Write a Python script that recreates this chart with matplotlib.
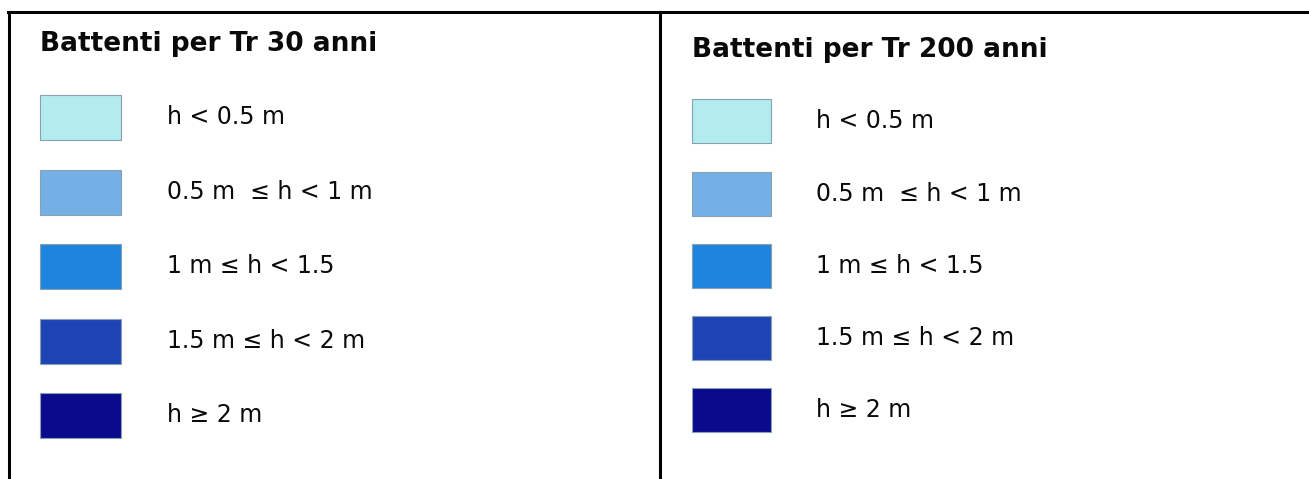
import matplotlib
matplotlib.use('Agg')
import matplotlib.pyplot as plt
from matplotlib.patches import Rectangle

# titoli dei due pannelli
titles = ['Battenti per Tr 30 anni', 'Battenti per Tr 200 anni']
# classi di battente
labels = ['h < 0.5 m', '0.5 m  \u2264 h < 1 m', '1 m \u2264 h < 1.5',
          '1.5 m \u2264 h < 2 m', 'h \u2265 2 m']
colors = ['#b3ecee', '#74b0e6', '#1e84de', '#1c44b4', '#0a0a8c']

W, H = 1309, 479
fig = plt.figure(figsize=(W / 100, H / 100), dpi=100)
ax = fig.add_axes([0, 0, 1, 1])
ax.set_xlim(0, W)
ax.set_ylim(H, 0)
ax.axis('off')

# bordi della tabella
ax.plot([8, W], [12, 12], color='black', lw=2.2)
ax.plot([9, 9], [12, H], color='black', lw=2.2)
ax.plot([660, 660], [12, H], color='black', lw=2.2)

# posizioni dei pannelli: x box, x testo, y titolo, y centri righe, altezza box
panels = [
    dict(xb=40, wb=81, xt=167, yt=44, rows=[117, 192, 266, 341, 415], hb=45),
    dict(xb=692, wb=79, xt=816, yt=50, rows=[121, 194, 266, 338, 410], hb=44),
]

for title, p in zip(titles, panels):
    ax.text(p['xb'], p['yt'], title, fontsize=19, fontweight='semibold',
            va='center', ha='left', color='#0a0a0a', family='DejaVu Sans')
    for lab, col, yc in zip(labels, colors, p['rows']):
        ax.add_patch(Rectangle((p['xb'], yc - p['hb'] / 2), p['wb'], p['hb'],
                               facecolor=col, edgecolor='#8aa0b0', lw=0.8))
        ax.text(p['xt'], yc, lab, fontsize=17, va='center', ha='left',
                color='#0a0a0a', family='DejaVu Sans')

fig.savefig('out.png', dpi=100)
